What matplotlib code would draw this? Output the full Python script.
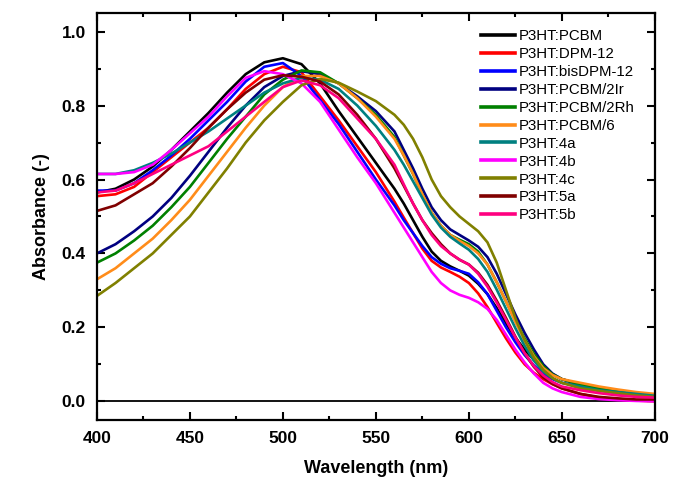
import matplotlib.pyplot as plt
from matplotlib.ticker import MultipleLocator

plt.rcParams['font.family'] = ['Liberation Sans', 'DejaVu Sans']

# wavelength grid (nm); finer in the 560-650 shoulder region
wl = [400, 410, 420, 430, 440, 450, 460, 470, 480, 490, 500,
      510, 520, 530, 540, 550, 560, 565, 570, 575, 580, 585, 590, 595, 600,
      605, 610, 615, 620, 625, 630, 635, 640, 645, 650,
      660, 670, 680, 690, 700]

labels = ['P3HT:PCBM', 'P3HT:DPM-12', 'P3HT:bisDPM-12', 'P3HT:PCBM/2Ir',
          'P3HT:PCBM/2Rh', 'P3HT:PCBM/6', 'P3HT:4a', 'P3HT:4b',
          'P3HT:4c', 'P3HT:5a', 'P3HT:5b']

pcbm = [0.565, 0.575, 0.60, 0.635, 0.68, 0.73, 0.78, 0.835, 0.885, 0.917, 0.928,
        0.912, 0.86, 0.785, 0.715, 0.645, 0.575, 0.535, 0.49, 0.445, 0.405, 0.38, 0.365, 0.353, 0.34,
        0.318, 0.29, 0.252, 0.21, 0.172, 0.14, 0.112, 0.09, 0.073, 0.06,
        0.045, 0.035, 0.025, 0.018, 0.012]
dpm12 = [0.555, 0.56, 0.58, 0.62, 0.66, 0.70, 0.74, 0.79, 0.845, 0.885, 0.905,
         0.89, 0.825, 0.76, 0.69, 0.62, 0.54, 0.497, 0.455, 0.413, 0.38, 0.362, 0.35, 0.337, 0.32,
         0.292, 0.255, 0.212, 0.17, 0.132, 0.10, 0.077, 0.06, 0.046, 0.035,
         0.02, 0.01, 0.005, 0.002, 0.0]
bisdpm12 = [0.57, 0.57, 0.59, 0.625, 0.665, 0.71, 0.76, 0.81, 0.865, 0.905, 0.915,
            0.88, 0.815, 0.75, 0.675, 0.60, 0.53, 0.49, 0.455, 0.42, 0.39, 0.372, 0.36, 0.353, 0.345,
            0.322, 0.29, 0.245, 0.20, 0.16, 0.125, 0.097, 0.075, 0.06, 0.05,
            0.04, 0.03, 0.022, 0.015, 0.01]
pcbm_2ir = [0.40, 0.425, 0.46, 0.50, 0.55, 0.61, 0.675, 0.74, 0.80, 0.85, 0.88,
            0.893, 0.885, 0.86, 0.825, 0.785, 0.73, 0.68, 0.63, 0.575, 0.525, 0.49, 0.465, 0.45, 0.435,
            0.418, 0.39, 0.345, 0.29, 0.235, 0.185, 0.14, 0.10, 0.075, 0.06,
            0.045, 0.035, 0.027, 0.02, 0.015]
pcbm_2rh = [0.375, 0.40, 0.435, 0.475, 0.525, 0.58, 0.645, 0.71, 0.77, 0.83, 0.87,
            0.895, 0.89, 0.86, 0.82, 0.775, 0.715, 0.665, 0.615, 0.56, 0.51, 0.475, 0.45, 0.437, 0.425,
            0.405, 0.37, 0.322, 0.27, 0.218, 0.17, 0.128, 0.095, 0.073, 0.06,
            0.045, 0.035, 0.028, 0.02, 0.015]
pcbm_6 = [0.33, 0.36, 0.40, 0.44, 0.49, 0.545, 0.61, 0.675, 0.74, 0.80, 0.85,
          0.88, 0.88, 0.86, 0.82, 0.77, 0.71, 0.665, 0.615, 0.56, 0.51, 0.475, 0.45, 0.434, 0.42,
          0.40, 0.37, 0.322, 0.27, 0.215, 0.165, 0.122, 0.09, 0.071, 0.06,
          0.05, 0.04, 0.032, 0.025, 0.02]
c4a = [0.615, 0.615, 0.625, 0.645, 0.67, 0.70, 0.73, 0.765, 0.80, 0.835, 0.86,
       0.875, 0.87, 0.845, 0.80, 0.745, 0.68, 0.64, 0.595, 0.55, 0.505, 0.47, 0.445, 0.427, 0.41,
       0.385, 0.35, 0.302, 0.25, 0.198, 0.15, 0.11, 0.08, 0.062, 0.05,
       0.04, 0.03, 0.025, 0.02, 0.015]
c4b = [0.615, 0.615, 0.62, 0.64, 0.68, 0.725, 0.77, 0.825, 0.875, 0.893, 0.885,
       0.86, 0.81, 0.735, 0.66, 0.59, 0.51, 0.47, 0.43, 0.39, 0.35, 0.32, 0.30, 0.288, 0.28,
       0.268, 0.25, 0.22, 0.18, 0.14, 0.105, 0.075, 0.05, 0.035, 0.025,
       0.012, 0.006, 0.003, 0.001, 0.0]
c4c = [0.285, 0.32, 0.36, 0.40, 0.45, 0.50, 0.565, 0.63, 0.70, 0.76, 0.81,
       0.855, 0.872, 0.862, 0.838, 0.812, 0.775, 0.748, 0.71, 0.66, 0.60, 0.555, 0.525, 0.50, 0.48,
       0.46, 0.43, 0.375, 0.30, 0.225, 0.165, 0.118, 0.085, 0.063, 0.05,
       0.035, 0.028, 0.022, 0.016, 0.012]
c5a = [0.515, 0.53, 0.56, 0.59, 0.635, 0.685, 0.74, 0.79, 0.835, 0.87, 0.882,
       0.878, 0.865, 0.83, 0.775, 0.71, 0.63, 0.583, 0.535, 0.49, 0.455, 0.425, 0.40, 0.383, 0.37,
       0.348, 0.315, 0.272, 0.225, 0.175, 0.13, 0.093, 0.065, 0.047, 0.035,
       0.02, 0.012, 0.008, 0.005, 0.005]
c5b = [0.565, 0.57, 0.59, 0.615, 0.64, 0.665, 0.69, 0.73, 0.77, 0.81, 0.85,
       0.868, 0.855, 0.82, 0.765, 0.71, 0.64, 0.587, 0.535, 0.49, 0.45, 0.42, 0.40, 0.383, 0.37,
       0.345, 0.31, 0.267, 0.22, 0.173, 0.13, 0.095, 0.07, 0.052, 0.04,
       0.03, 0.022, 0.016, 0.012, 0.01]

series = [pcbm, dpm12, bisdpm12, pcbm_2ir, pcbm_2rh, pcbm_6, c4a, c4b, c4c, c5a, c5b]
colors = ['#000000', '#ff0000', '#0000ff', '#000080', '#008000', '#ff8c1a',
          '#008080', '#ff00ff', '#808000', '#800000', '#ff0080']

fig = plt.figure(figsize=(6.73, 4.87), dpi=100)
ax = fig.add_axes([0.144, 0.138, 0.829, 0.835])

ax.axhline(0, color='black', lw=1.3, zorder=1)
for y, c, lab in zip(series, colors, labels):
    ax.plot(wl, y, color=c, lw=1.9, label=lab, solid_joinstyle='round')

ax.set_xlim(400, 700)
ax.set_ylim(-0.05, 1.05)
ax.xaxis.set_major_locator(MultipleLocator(50))
ax.xaxis.set_minor_locator(MultipleLocator(25))
ax.yaxis.set_major_locator(MultipleLocator(0.2))
ax.yaxis.set_minor_locator(MultipleLocator(0.1))
ax.yaxis.set_major_formatter(plt.FormatStrFormatter('%.1f'))
ax.tick_params(which='both', direction='in', top=True, right=True, width=1.5)
ax.tick_params(which='major', length=6, labelsize=12.5, pad=8)
ax.tick_params(which='minor', length=3)
for lbl in ax.get_xticklabels() + ax.get_yticklabels():
    lbl.set_fontweight('bold')
for s in ax.spines.values():
    s.set_linewidth(1.6)

ax.set_xlabel('Wavelength (nm)', fontsize=13, fontweight='bold', labelpad=10)
ax.set_ylabel('Absorbance (-)', fontsize=13, fontweight='bold', labelpad=8)

leg = ax.legend(loc='upper right', frameon=False, fontsize=10.8, handlelength=2.3,
                handletextpad=0.2, labelspacing=0.26, borderaxespad=0,
                bbox_to_anchor=(0.974, 0.975))
for h in leg.get_lines():
    h.set_linewidth(2.6)

plt.savefig('out.png', dpi=100)
